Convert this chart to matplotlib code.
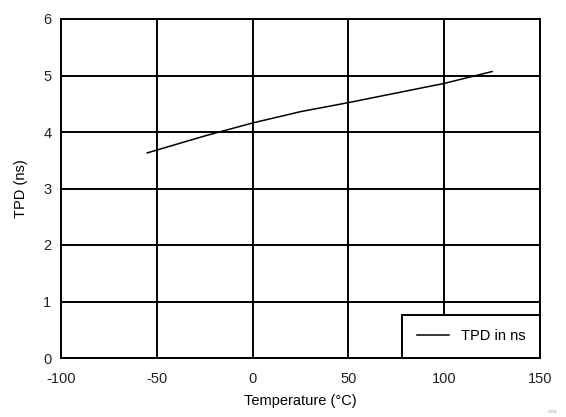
import matplotlib.pyplot as plt
import numpy as np

plt.rcParams['font.family'] = ['Liberation Sans', 'DejaVu Sans']
plt.rcParams['axes.unicode_minus'] = False

# data
temp = [-55, -50, -25, 0, 25, 50, 75, 100, 125]
tpd = [3.63, 3.68, 3.93, 4.16, 4.36, 4.52, 4.69, 4.86, 5.07]
x_ticks = [-100, -50, 0, 50, 100, 150]
y_ticks = [0, 1, 2, 3, 4, 5, 6]

fig = plt.figure(figsize=(5.66, 4.17), dpi=100)
ax = fig.add_axes([61 / 566, 1 - 358 / 417, (540 - 61) / 566, (358 - 19) / 417])

ax.plot(temp, tpd, color='black', linewidth=1.1, label='TPD in ns')
ax.set_xlim(-100, 150)
ax.set_ylim(0, 6)
ax.set_xticks(x_ticks)
ax.set_yticks(y_ticks)
ax.grid(True, color='black', linewidth=1.4)
ax.tick_params(length=0, labelsize=10.5, colors='#222222')
ax.tick_params(axis='x', pad=10)
ax.tick_params(axis='y', pad=7)
for s in ax.spines.values():
    s.set_color('black')
    s.set_linewidth(1.4)

ax.set_xlabel('Temperature (°C)', fontsize=10.5, labelpad=6)
ax.set_ylabel('TPD (ns)', fontsize=10.5, labelpad=11)

leg = ax.legend(loc='lower right', fontsize=10.5, fancybox=False, framealpha=1,
                borderaxespad=0, handlelength=2.2, handletextpad=0.8, borderpad=1.0)
leg.get_frame().set_edgecolor('black')
leg.get_frame().set_linewidth(1.4)

fig.text(0.985, 0.01, 'D001', fontsize=3, color='#999999', ha='right')

fig.savefig('out.png', dpi=100)
